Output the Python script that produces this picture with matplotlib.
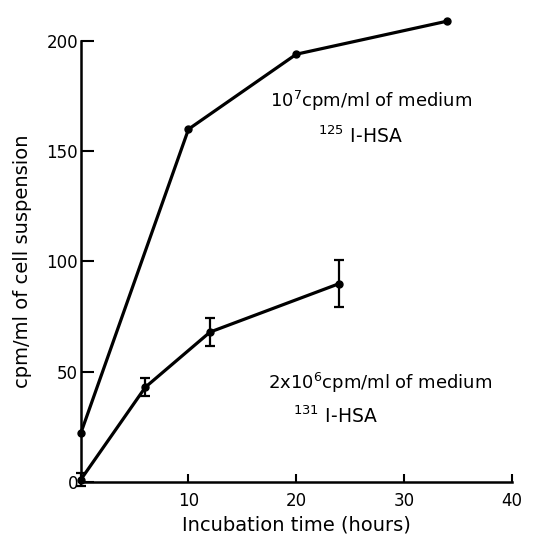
import numpy as np
import matplotlib.pyplot as plt

plt.rcParams['font.family'] = ['DejaVu Sans']
plt.rcParams['mathtext.default'] = 'regular'

# 125I-HSA, 10^7 cpm/ml of medium
hsa125_time = [0, 10, 20, 34]
hsa125_cpm = [22, 160, 194, 209]

# 131I-HSA, 2x10^6 cpm/ml of medium
hsa131_time = [0, 6, 12, 24]
hsa131_cpm = [1, 43, 68, 90]
hsa131_err = [3, 4, 6.5, 10.5]

fig = plt.figure(figsize=(5.33, 5.4), dpi=100)
ax = fig.add_axes([0.1514, 0.1074, 0.809, 0.8167])

ax.plot(hsa125_time, hsa125_cpm, color='black', lw=2.3, marker='o', ms=5,
        clip_on=False, zorder=3)
ax.errorbar(hsa131_time, hsa131_cpm, yerr=hsa131_err, color='black', lw=2.3,
            marker='o', ms=5, ecolor='black', elinewidth=1.6, capsize=3.5,
            capthick=1.6, clip_on=False, zorder=3)

ax.set_xlim(0, 40)
ax.set_ylim(0, 200)
ax.set_xticks([10, 20, 30, 40])
ax.set_yticks([0, 50, 100, 150, 200])
ax.tick_params(axis='y', direction='in', length=9, width=1.5, labelsize=12, pad=2)
ax.tick_params(axis='x', direction='in', length=6, width=1.5, labelsize=12, pad=7)
for s in ['top', 'right']:
    ax.spines[s].set_visible(False)
for s in ['left', 'bottom']:
    ax.spines[s].set_linewidth(1.8)

ax.set_xlabel('Incubation time (hours)', fontsize=14, labelpad=4)
ax.set_ylabel('cpm/ml of cell suspension', fontsize=14, labelpad=10)

ax.text(17.6, 173, r'$10^7$cpm/ml of medium', fontsize=13, va='center', ha='left')
ax.text(22, 157, r'$^{125}$ I-HSA', fontsize=13.5, va='center', ha='left')
ax.text(17.4, 45, r'2x$10^6$cpm/ml of medium', fontsize=13, va='center', ha='left')
ax.text(19.7, 30, r'$^{131}$ I-HSA', fontsize=13.5, va='center', ha='left')

fig.savefig('out.png', dpi=100)
